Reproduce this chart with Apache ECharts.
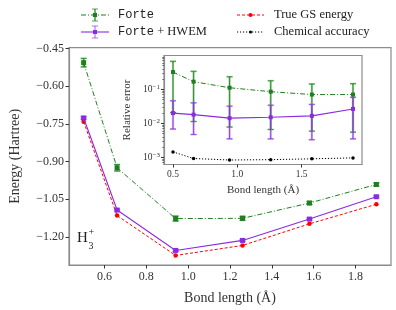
<!DOCTYPE html>
<html><head><meta charset="utf-8">
<script src="https://cdn.jsdelivr.net/npm/echarts@6/dist/echarts.min.js"></script>
<style>html,body{margin:0;padding:0;background:#fff}#c{width:396px;height:310px}</style>
</head><body><div id="c"></div>
<script>
// ---- data ----
const bondLength = [0.5, 0.66, 0.94, 1.26, 1.58, 1.9];
const forteE = [-0.5056, -0.9246, -1.127, -1.126, -1.065, -0.991];
const forteErr = [0.017, 0.013, 0.010, 0.008, 0.006, 0.006];
const hwemE = [-0.726, -1.093, -1.254, -1.214, -1.129, -1.040];
const hwemErr = [0.005, 0.004, 0.004, 0.004, 0.004, 0.004];
const trueE = [-0.741, -1.115, -1.274, -1.234, -1.148, -1.070];
// inset: relative error
const forteRel = [0.32, 0.167, 0.111, 0.085, 0.070, 0.070];
const forteRelLo = [0.0207, 0.0113, 0.0078, 0.0066, 0.0059, 0.0055];
const forteRelHi = [0.66, 0.336, 0.233, 0.178, 0.143, 0.146];
const hwemRel = [0.020, 0.018, 0.0142, 0.0151, 0.0166, 0.0265];
const hwemRelLo = [0.0068, 0.0047, 0.0035, 0.0035, 0.0033, 0.0035];
const hwemRelHi = [0.046, 0.040, 0.032, 0.034, 0.036, 0.058];
const chemAcc = [0.00145, 0.00093, 0.00084, 0.00086, 0.00091, 0.00097];
// ticks
const mainXTicks = [0.6, 0.8, 1.0, 1.2, 1.4, 1.6, 1.8];
const mainYTicks = [-0.45, -0.60, -0.75, -0.90, -1.05, -1.20];
const insetXTicks = [0.5, 1.0, 1.5];
const insetYTicks = [0.001, 0.01, 0.1];
const insetYMinor = [0.0007,0.0008,0.0009,0.002,0.003,0.004,0.005,0.006,0.007,0.008,0.009,0.02,0.03,0.04,0.05,0.06,0.07,0.08,0.09,0.2,0.3,0.4,0.5,0.6,0.7,0.8,0.9];

const GREEN = '#1f7f1f', GREEN_L = 'rgba(40,150,40,0.45)';
const PURPLE = '#8a2be2', PURPLE_L = 'rgba(150,80,230,0.45)';
const SERIF = '"Liberation Serif", "DejaVu Serif", serif';
const MONO = '"Liberation Mono", "DejaVu Sans Mono", monospace';
const SPINE = '#8c8c8c';

const zip = (a, b) => a.map((v, i) => [v, b[i]]);
function errData(x, c, e) { return x.map((v, i) => [v, c[i] - e[i], c[i] + e[i]]); }
function errDataLH(x, lo, hi) { return x.map((v, i) => [v, lo[i], hi[i]]); }
function errRender(colL, colD, cap) {
  return function (params, api) {
    const x = api.value(0);
    const p1 = api.coord([x, api.value(1)]);
    const p2 = api.coord([x, api.value(2)]);
    const mk = (s, w) => ({ stroke: s, lineWidth: w });
    return { type: 'group', children: [
      { type: 'line', shape: { x1: p1[0], y1: p1[1], x2: p2[0], y2: p2[1] }, style: mk(colL, 2.2) },
      { type: 'line', shape: { x1: p1[0] - cap, y1: p1[1], x2: p1[0] + cap, y2: p1[1] }, style: mk(colL, 1.8) },
      { type: 'line', shape: { x1: p2[0] - cap, y1: p2[1], x2: p2[0] + cap, y2: p2[1] }, style: mk(colL, 1.8) },
      { type: 'line', shape: { x1: p1[0], y1: p1[1], x2: p2[0], y2: p2[1] }, style: mk(colD, 0.8) },
      { type: 'line', shape: { x1: p1[0] - cap, y1: p1[1], x2: p1[0] + cap, y2: p1[1] }, style: mk(colD, 0.7) },
      { type: 'line', shape: { x1: p2[0] - cap, y1: p2[1], x2: p2[0] + cap, y2: p2[1] }, style: mk(colD, 0.7) }
    ]};
  };
}
const sup = { fontSize: 7, verticalAlign: 'top', padding: [0, 0, 5, 0], fontFamily: SERIF, color: '#333' };
function logFmt(v) {
  const e = Math.round(Math.log10(v));
  return '{b|10}{s|\u2212' + Math.abs(e) + '}';
}

const chart = echarts.init(document.getElementById('c'), null, { renderer: 'canvas' });
const axisLineStyle = { show: true, lineStyle: { color: SPINE, width: 1.2 } };
chart.setOption({
  animation: false,
  backgroundColor: '#fff',
  grid: [
    { left: 62, top: 47.7, right: 5, bottom: 44, show: true, borderColor: SPINE, borderWidth: 1.2, backgroundColor: 'transparent' },
    { left: 164, top: 55.5, width: 198, height: 109, show: true, borderColor: SPINE, borderWidth: 1.2, backgroundColor: '#fff', z: 10 }
  ],
  xAxis: [
    { type: 'value', gridIndex: 0, min: 0.43, max: 1.97, splitLine: { show: false },
      axisLine: axisLineStyle,
      axisTick: { show: true, length: 3.5, lineStyle: { color: '#333' }, customValues: mainXTicks },
      axisLabel: { customValues: mainXTicks, color: '#333', fontFamily: SERIF, fontSize: 12, margin: 6,
        formatter: v => v.toFixed(1) },
      name: 'Bond length (\u00c5)', nameLocation: 'middle', nameGap: 26,
      nameTextStyle: { fontFamily: SERIF, fontSize: 14, color: '#333' } },
    { type: 'value', gridIndex: 1, min: 0.43, max: 1.97, splitLine: { show: false }, z: 11,
      axisLine: axisLineStyle,
      axisTick: { show: true, length: 3, lineStyle: { color: '#333' }, customValues: insetXTicks },
      axisLabel: { customValues: insetXTicks, color: '#333', fontFamily: SERIF, fontSize: 9.5, margin: 5,
        formatter: v => v.toFixed(1) },
      name: 'Bond length (\u00c5)', nameLocation: 'middle', nameGap: 20,
      nameTextStyle: { fontFamily: SERIF, fontSize: 11, color: '#333' } }
  ],
  yAxis: [
    { type: 'value', gridIndex: 0, min: -1.312, max: -0.446, splitLine: { show: false },
      axisLine: axisLineStyle,
      axisTick: { show: true, length: 3.5, lineStyle: { color: '#333' }, customValues: mainYTicks },
      axisLabel: { customValues: mainYTicks, color: '#333', fontFamily: SERIF, fontSize: 12, margin: 5,
        formatter: v => '\u2212' + Math.abs(v).toFixed(2) },
      name: 'Energy (Hartree)', nameLocation: 'middle', nameGap: 47,
      nameTextStyle: { fontFamily: SERIF, fontSize: 14, color: '#333' } },
    { type: 'log', gridIndex: 1, logBase: 10, min: 0.00062, max: 0.98, splitLine: { show: false }, z: 11,
      position: 'left',
      axisLine: axisLineStyle,
      axisTick: { show: true, length: 3, lineStyle: { color: '#333' }, customValues: insetYTicks },
      axisLabel: { customValues: insetYTicks, color: '#333', fontFamily: SERIF, fontSize: 9.5, margin: 4,
        formatter: logFmt, rich: { b: { fontSize: 9.5, fontFamily: SERIF, color: '#333' }, s: sup } },
      name: 'Relative error', nameLocation: 'middle', nameGap: 31,
      nameTextStyle: { fontFamily: SERIF, fontSize: 11, color: '#333' } },
    { type: 'log', gridIndex: 1, logBase: 10, min: 0.00062, max: 0.98, splitLine: { show: false }, z: 11,
      position: 'left', offset: 0,
      axisLine: { show: false },
      axisTick: { show: true, length: 1.8, lineStyle: { color: '#333', width: 0.6 }, customValues: insetYMinor },
      axisLabel: { show: false } }
  ],
  series: [
    { type: 'line', xAxisIndex: 0, yAxisIndex: 0, data: zip(bondLength, trueE), z: 3,
      lineStyle: { color: 'red', width: 1, type: [3, 2] }, itemStyle: { color: 'red' },
      symbol: 'circle', symbolSize: 4.5 },
    { type: 'line', xAxisIndex: 0, yAxisIndex: 0, data: zip(bondLength, hwemE), z: 4,
      lineStyle: { color: PURPLE, width: 1.1 }, itemStyle: { color: PURPLE },
      symbol: 'rect', symbolSize: 5 },
    { type: 'custom', xAxisIndex: 0, yAxisIndex: 0, data: errData(bondLength, hwemE, hwemErr), z: 4,
      renderItem: errRender(PURPLE_L, PURPLE, 3), encode: { x: 0, y: [1, 2] } },
    { type: 'line', xAxisIndex: 0, yAxisIndex: 0, data: zip(bondLength, forteE), z: 5,
      lineStyle: { color: GREEN, width: 1, type: [5, 2, 1, 2] }, itemStyle: { color: GREEN },
      symbol: 'rect', symbolSize: 5 },
    { type: 'custom', xAxisIndex: 0, yAxisIndex: 0, data: errData(bondLength, forteE, forteErr), z: 5,
      renderItem: errRender(GREEN_L, GREEN, 3), encode: { x: 0, y: [1, 2] } },
    // inset
    { type: 'line', xAxisIndex: 1, yAxisIndex: 1, data: zip(bondLength, chemAcc), z: 12,
      lineStyle: { color: '#000', width: 1, type: [1.2, 1.8] }, itemStyle: { color: '#000' },
      symbol: 'circle', symbolSize: 3.5 },
    { type: 'custom', xAxisIndex: 1, yAxisIndex: 1, data: errDataLH(bondLength, forteRelLo, forteRelHi), z: 12,
      renderItem: errRender(GREEN_L, GREEN, 3), encode: { x: 0, y: [1, 2] } },
    { type: 'line', xAxisIndex: 1, yAxisIndex: 1, data: zip(bondLength, forteRel), z: 13,
      lineStyle: { color: GREEN, width: 1, type: [5, 2, 1, 2] }, itemStyle: { color: GREEN },
      symbol: 'rect', symbolSize: 4 },
    { type: 'custom', xAxisIndex: 1, yAxisIndex: 1, data: errDataLH(bondLength, hwemRelLo, hwemRelHi), z: 13,
      renderItem: errRender(PURPLE_L, PURPLE, 3), encode: { x: 0, y: [1, 2] } },
    { type: 'line', xAxisIndex: 1, yAxisIndex: 1, data: zip(bondLength, hwemRel), z: 14,
      lineStyle: { color: PURPLE, width: 1.1 }, itemStyle: { color: PURPLE },
      symbol: 'rect', symbolSize: 4 }
  ],
  graphic: [
    // legend: Forte
    { type: 'line', shape: { x1: 81, y1: 15, x2: 109, y2: 15 }, style: { stroke: GREEN, lineWidth: 1, lineDash: [5, 2, 1, 2] } },
    { type: 'line', shape: { x1: 95, y1: 9, x2: 95, y2: 21 }, style: { stroke: GREEN_L, lineWidth: 2 } },
    { type: 'line', shape: { x1: 92, y1: 9, x2: 98, y2: 9 }, style: { stroke: GREEN_L, lineWidth: 1.8 } },
    { type: 'line', shape: { x1: 92, y1: 21, x2: 98, y2: 21 }, style: { stroke: GREEN_L, lineWidth: 1.8 } },
    { type: 'line', shape: { x1: 95, y1: 9, x2: 95, y2: 21 }, style: { stroke: GREEN, lineWidth: 0.7 } },
    { type: 'rect', shape: { x: 93, y: 13, width: 4, height: 4 }, style: { fill: GREEN } },
    { type: 'text', x: 118, y: 15, style: { text: 'Forte', font: '12px ' + MONO, fill: '#222', textVerticalAlign: 'middle' } },
    // legend: Forte + HWEM
    { type: 'line', shape: { x1: 81, y1: 32, x2: 109, y2: 32 }, style: { stroke: PURPLE, lineWidth: 1.1 } },
    { type: 'line', shape: { x1: 95, y1: 26, x2: 95, y2: 38 }, style: { stroke: PURPLE_L, lineWidth: 2 } },
    { type: 'line', shape: { x1: 92, y1: 26, x2: 98, y2: 26 }, style: { stroke: PURPLE_L, lineWidth: 1.8 } },
    { type: 'line', shape: { x1: 92, y1: 38, x2: 98, y2: 38 }, style: { stroke: PURPLE_L, lineWidth: 1.8 } },
    { type: 'rect', shape: { x: 93, y: 30, width: 4, height: 4 }, style: { fill: PURPLE } },
    { type: 'text', x: 118, y: 32, style: { text: '{m|Forte}{s| + HWEM}', textVerticalAlign: 'middle',
      rich: { m: { font: '12px ' + MONO, fill: '#222' }, s: { font: '12.5px ' + SERIF, fill: '#222' } } } },
    // legend: True GS energy
    { type: 'line', shape: { x1: 237, y1: 15, x2: 264, y2: 15 }, style: { stroke: 'red', lineWidth: 1, lineDash: [3, 2] } },
    { type: 'circle', shape: { cx: 250.5, cy: 15, r: 2 }, style: { fill: 'red' } },
    { type: 'text', x: 274, y: 15, style: { text: 'True GS energy', font: '12.5px ' + SERIF, fill: '#222', textVerticalAlign: 'middle' } },
    // legend: Chemical accuracy
    { type: 'line', shape: { x1: 237, y1: 32, x2: 264, y2: 32 }, style: { stroke: '#000', lineWidth: 1, lineDash: [1.2, 1.8] } },
    { type: 'circle', shape: { cx: 250.5, cy: 32, r: 1.6 }, style: { fill: '#000' } },
    { type: 'text', x: 274, y: 32, style: { text: 'Chemical accuracy', font: '12.5px ' + SERIF, fill: '#222', textVerticalAlign: 'middle' } },
    // H3+ label
    { type: 'text', x: 77, y: 238, style: { text: 'H', font: '15px ' + SERIF, fill: '#222', textVerticalAlign: 'middle' } },
    { type: 'text', x: 88.5, y: 232, style: { text: '+', font: '10px ' + SERIF, fill: '#222', textVerticalAlign: 'middle' } },
    { type: 'text', x: 88.5, y: 246, style: { text: '3', font: '10px ' + SERIF, fill: '#222', textVerticalAlign: 'middle' } }
  ]
});
</script></body></html>
